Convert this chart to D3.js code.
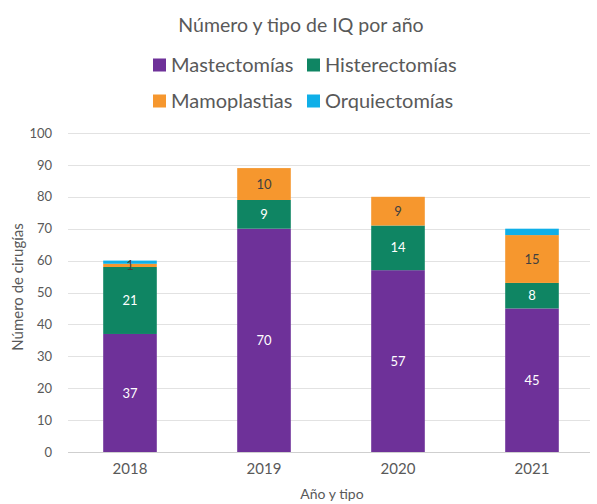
<!DOCTYPE html>
<html>
<head>
<meta charset="utf-8">
<script src="https://cdn.jsdelivr.net/npm/d3@7"></script>
<style>
  html, body { margin: 0; padding: 0; background: #ffffff; }
  svg { display: block; font-family: Lato, "Open Sans", sans-serif; }
</style>
</head>
<body>
<svg id="chart" width="597" height="504"></svg>
<script>
// Surgeries per year, split by procedure type
const years = ["2018", "2019", "2020", "2021"];
const seriesNames = ["Mastectomías", "Histerectomías", "Mamoplastias", "Orquiectomías"];
const mastectomias   = [37, 70, 57, 45];
const histerectomias = [21, 9, 14, 8];
const mamoplastias   = [1, 10, 9, 15];
const orquiectomias  = [1, 0, 0, 2];
// Which segments carry a value label
const showLabel = [
  [true, true, true, true],
  [true, true, true, true],
  [true, true, true, true],
  [false, false, false, false]
];
const yTicks = [0, 10, 20, 30, 40, 50, 60, 70, 80, 90, 100];

const colors = ["#6E3199", "#0F8563", "#F6972E", "#0FAFE8"];
const labelColors = ["#ffffff", "#ffffff", "#404040", "#404040"];

const rows = years.map((y, i) => ({
  year: y,
  "Mastectomías": mastectomias[i],
  "Histerectomías": histerectomias[i],
  "Mamoplastias": mamoplastias[i],
  "Orquiectomías": orquiectomias[i]
}));

const svg = d3.select("#chart");
const plot = { left: 63, right: 599, top: 133, bottom: 452 };

const x = d3.scaleBand().domain(years).range([plot.left, plot.right])
  .paddingInner(0.6).paddingOuter(0.3);
const y = d3.scaleLinear().domain([0, 100]).range([plot.bottom, plot.top]);

// Horizontal gridlines
svg.append("g").selectAll("line").data(yTicks).join("line")
  .attr("x1", 68).attr("x2", 590)
  .attr("y1", d => Math.round(y(d)) + 0.5).attr("y2", d => Math.round(y(d)) + 0.5)
  .attr("stroke", d => d === 0 ? "#cfcfcf" : "#e2e2e2").attr("stroke-width", 1);

// Y axis tick labels
const yAxis = d3.axisLeft(y).tickValues(yTicks).tickSize(0).tickPadding(0);
const gy = svg.append("g").attr("transform", `translate(${52},0)`).call(yAxis);
gy.select(".domain").remove();
gy.selectAll("text").attr("font-family", "Lato, sans-serif").attr("font-size", 13)
  .attr("fill", "#595959");

// X axis labels
const xAxis = d3.axisBottom(x).tickSize(0).tickPadding(0);
const gx = svg.append("g").attr("transform", `translate(0,${463})`).call(xAxis);
gx.select(".domain").remove();
gx.selectAll("text").attr("font-family", "Lato, sans-serif").attr("font-size", 15)
  .attr("fill", "#595959");

// Stacked bars
const stack = d3.stack().keys(seriesNames);
const layers = stack(rows);

const layerG = svg.append("g").selectAll("g").data(layers).join("g")
  .attr("fill", (d, i) => colors[i]);

layerG.selectAll("rect").data(d => d).join("rect")
  .attr("x", d => x(d.data.year))
  .attr("width", x.bandwidth())
  .attr("y", d => y(d[1]))
  .attr("height", d => y(d[0]) - y(d[1]));

// Value labels
layers.forEach((layer, si) => {
  svg.append("g").selectAll("text")
    .data(layer.filter((d, i) => showLabel[si][i] && (d[1] - d[0]) > 0))
    .join("text")
    .attr("x", d => x(d.data.year) + x.bandwidth() / 2)
    .attr("y", d => y((d[0] + d[1]) / 2))
    .attr("dy", "0.35em")
    .attr("text-anchor", "middle")
    .attr("font-size", 13)
    .attr("fill", labelColors[si])
    .text(d => d[1] - d[0]);
});

// Title
svg.append("text").attr("x", 301).attr("y", 32).attr("text-anchor", "middle")
  .attr("font-size", 19.5).attr("fill", "#595959").text("Número y tipo de IQ por año");

// Legend (two rows)
const legendPos = [
  { x: 153, y: 65 }, { x: 307, y: 65 },
  { x: 153, y: 101 }, { x: 307, y: 101 }
];
const lg = svg.append("g").selectAll("g").data(seriesNames).join("g")
  .attr("transform", (d, i) => `translate(${legendPos[i].x},${legendPos[i].y})`);
lg.append("rect").attr("x", 0).attr("y", -6.5).attr("width", 13).attr("height", 13)
  .attr("fill", (d, i) => colors[i]);
lg.append("text").attr("x", 18).attr("y", 0).attr("dy", "0.35em")
  .attr("font-size", 20).attr("fill", "#595959").text(d => d);

// Axis titles
svg.append("text")
  .attr("transform", `translate(23,${287}) rotate(-90)`)
  .attr("text-anchor", "middle").attr("font-size", 15).attr("fill", "#595959")
  .text("Número de cirugías");
svg.append("text").attr("x", 332).attr("y", 499).attr("text-anchor", "middle")
  .attr("font-size", 14).attr("fill", "#595959").text("Año y tipo");
</script>
</body>
</html>
